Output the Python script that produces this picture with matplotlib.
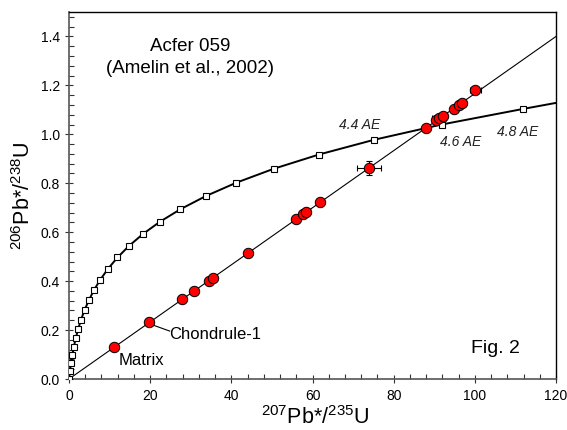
import matplotlib
matplotlib.use("Agg")
import matplotlib.pyplot as plt
from matplotlib.ticker import MultipleLocator

plt.rcParams['font.family'] = ['Liberation Sans', 'DejaVu Sans']
plt.rcParams['mathtext.fontset'] = 'custom'
plt.rcParams['mathtext.rm'] = 'Liberation Sans'

# concordia, one square every 0.2 Ga (0 .. 4.8 Ga), plus the end at the frame
conc_x = [0.0, 0.218, 0.483, 0.806, 1.199, 1.677, 2.260, 2.970, 3.835, 4.887,
          6.169, 7.730, 9.631, 11.945, 14.764, 18.196, 22.376, 27.466, 33.665,
          41.213, 50.405, 61.60, 75.20, 91.79, 111.98]
conc_y = [0.0, 0.0315, 0.0640, 0.0975, 0.1322, 0.1678, 0.2046, 0.2426, 0.2817,
          0.3221, 0.3637, 0.4066, 0.4509, 0.4966, 0.5437, 0.5923, 0.6424, 0.6940,
          0.7473, 0.8023, 0.8590, 0.9175, 0.9778, 1.0400, 1.1041]
conc_end_x = 120.0
conc_end_y = 1.1285

# discordia through the origin
disc_x = [0.0, 120.0]
disc_y = [0.0, 1.40]

# Acfer 059 analyses
pb_x = [11.0, 19.6, 27.8, 30.8, 34.4, 35.5, 44.0, 56.0, 57.7, 58.4, 61.9,
        73.9, 87.9, 90.4, 91.1, 92.2, 94.9, 96.0, 96.8, 100.1]
pb_y = [0.131, 0.231, 0.326, 0.360, 0.402, 0.414, 0.515, 0.654, 0.674, 0.682, 0.723,
        0.862, 1.026, 1.058, 1.066, 1.075, 1.104, 1.118, 1.128, 1.180]
pb_xerr = [0, 0, 0, 0, 0, 0, 0, 0, 0, 0, 0,
           3.0, 0, 0, 1.7, 0, 0, 0, 0, 1.4]
pb_yerr = [0, 0, 0, 0, 0, 0, 0, 0, 0, 0, 0,
           0.030, 0, 0, 0.012, 0, 0, 0, 0, 0.010]

age_labels = ['4.4 AE', '4.6 AE', '4.8 AE']
age_label_x = [71.7, 96.4, 110.6]
age_label_y = [1.037, 0.970, 1.009]

fig = plt.figure(figsize=(5.67, 4.30), dpi=100)
ax = fig.add_axes([0.1217, 0.1186, 0.8589, 0.8535])

ax.plot(disc_x, disc_y, color='black', lw=0.8, zorder=2)
ax.plot(conc_x + [conc_end_x], conc_y + [conc_end_y], color='black', lw=1.4, zorder=3)
ax.plot(conc_x, conc_y, ls='none', marker='s', ms=4.2, mfc='white', mec='black',
        mew=0.8, zorder=4)

ax.errorbar(pb_x, pb_y, xerr=pb_xerr, yerr=pb_yerr, fmt='none', ecolor='black',
            elinewidth=0.8, capsize=2.5, capthick=0.8, zorder=5)
ax.plot(pb_x, pb_y, ls='none', marker='o', ms=7.5, mfc='#ff0000', mec='black',
        mew=0.7, zorder=6)

for lab, lx, ly in zip(age_labels, age_label_x, age_label_y):
    ax.text(lx, ly, lab, fontsize=10, style='italic', ha='center', va='center',
            color='#222222')

ax.text(29.8, 1.340, 'Acfer 059', fontsize=13.5, ha='center', va='baseline')
ax.text(29.8, 1.250, '(Amelin et al., 2002)', fontsize=13.5, ha='center', va='baseline')
ax.text(17.9, 0.074, 'Matrix', fontsize=12, ha='center', va='center')
ax.text(36.0, 0.180, 'Chondrule-1', fontsize=12, ha='center', va='center')
ax.plot([pb_x[1] + 1.0, 24.8], [pb_y[1] - 0.01, 0.196], color='black', lw=0.8)
ax.text(105.2, 0.123, 'Fig. 2', fontsize=14, ha='center', va='center')

ax.set_xlim(0, 120)
ax.set_ylim(0, 1.5)
ax.xaxis.set_major_locator(MultipleLocator(20))
ax.xaxis.set_minor_locator(MultipleLocator(4))
ax.yaxis.set_major_locator(MultipleLocator(0.2))
ax.yaxis.set_minor_locator(MultipleLocator(0.04))
ax.xaxis.set_major_formatter(plt.FuncFormatter(lambda v, p: '%d' % v))
ax.yaxis.set_major_formatter(plt.FuncFormatter(lambda v, p: '%.1f' % v))
ax.tick_params(which='major', direction='inout', length=6, width=0.8, labelsize=10,
               color='#333333', top=False, right=False)
ax.tick_params(which='minor', direction='in', length=3.5, width=0.8, color='#333333',
               top=False, right=False)
ax.tick_params(axis='x', pad=4)
for side in ['bottom', 'left']:
    ax.spines[side].set_color('#555555')
    ax.spines[side].set_linewidth(1.2)
for side in ['top', 'right']:
    ax.spines[side].set_linewidth(1.0)

fig.text(0.556, 0.013, '$^{207}$Pb*/$^{235}$U', fontsize=15.5, ha='center',
         va='baseline')
fig.text(0.042, 0.544, '$^{206}$Pb*/$^{238}$U', fontsize=15.5, ha='center', va='center',
         rotation=90)

fig.savefig('out.png', dpi=100)
